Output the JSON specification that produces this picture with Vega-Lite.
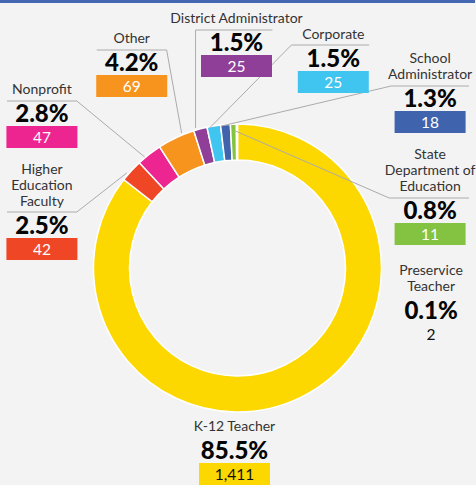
{
  "$schema": "https://vega.github.io/schema/vega-lite/v6.json",
  "width": 476,
  "height": 485,
  "autosize": {"type": "fit", "contains": "padding"},
  "padding": 0,
  "background": "#f3f3f3",
  "config": {"view": {"stroke": null}, "font": "Lato"},
  "datasets": {
    "slices": [
      {"category": "K-12 Teacher", "rank": 1, "count": 1411, "share": 0.855},
      {"category": "Higher Education Faculty", "rank": 2, "count": 42, "share": 0.025},
      {"category": "Nonprofit", "rank": 3, "count": 47, "share": 0.028},
      {"category": "Other", "rank": 4, "count": 69, "share": 0.042},
      {"category": "District Administrator", "rank": 5, "count": 25, "share": 0.015},
      {"category": "Corporate", "rank": 6, "count": 25, "share": 0.015},
      {"category": "School Administrator", "rank": 7, "count": 18, "share": 0.013},
      {"category": "State Department of Education", "rank": 8, "count": 11, "share": 0.008},
      {"category": "Preservice Teacher", "rank": 9, "count": 2, "share": 0.001}
    ],
    "callouts": [
      {"category": "K-12 Teacher", "title": "K-12 Teacher", "lines": 1, "lx": 235, "ly": 452},
      {"category": "Higher Education Faculty", "title": "Higher\nEducation\nFaculty", "lines": 3, "lx": 42, "ly": 227},
      {"category": "Nonprofit", "title": "Nonprofit", "lines": 1, "lx": 42, "ly": 115},
      {"category": "Other", "title": "Other", "lines": 1, "lx": 132, "ly": 64},
      {"category": "District Administrator", "title": "District Administrator", "lines": 1, "lx": 237, "ly": 44},
      {"category": "Corporate", "title": "Corporate", "lines": 1, "lx": 334, "ly": 60},
      {"category": "School Administrator", "title": "School\nAdministrator", "lines": 2, "lx": 431, "ly": 100},
      {"category": "State Department of Education", "title": "State\nDepartment of\nEducation", "lines": 3, "lx": 431, "ly": 212},
      {"category": "Preservice Teacher", "title": "Preservice\nTeacher", "lines": 2, "lx": 432, "ly": 312}
    ],
    "leaders": [
      {"category": "Nonprofit", "seq": 1, "lx": 7, "ly": 101},
      {"category": "Nonprofit", "seq": 2, "lx": 77, "ly": 101},
      {"category": "Nonprofit", "seq": 3, "lx": 145, "ly": 157},
      {"category": "Higher Education Faculty", "seq": 1, "lx": 7, "ly": 212},
      {"category": "Higher Education Faculty", "seq": 2, "lx": 77, "ly": 212},
      {"category": "Higher Education Faculty", "seq": 3, "lx": 127, "ly": 173},
      {"category": "Other", "seq": 1, "lx": 97, "ly": 50},
      {"category": "Other", "seq": 2, "lx": 167, "ly": 50},
      {"category": "Other", "seq": 3, "lx": 182, "ly": 133},
      {"category": "District Administrator", "seq": 1, "lx": 273, "ly": 30},
      {"category": "District Administrator", "seq": 2, "lx": 196, "ly": 30},
      {"category": "District Administrator", "seq": 3, "lx": 196, "ly": 128},
      {"category": "Corporate", "seq": 1, "lx": 370, "ly": 45},
      {"category": "Corporate", "seq": 2, "lx": 292, "ly": 45},
      {"category": "Corporate", "seq": 3, "lx": 210, "ly": 128},
      {"category": "School Administrator", "seq": 1, "lx": 470, "ly": 86},
      {"category": "School Administrator", "seq": 2, "lx": 392, "ly": 86},
      {"category": "School Administrator", "seq": 3, "lx": 222, "ly": 126},
      {"category": "State Department of Education", "seq": 1, "lx": 470, "ly": 198},
      {"category": "State Department of Education", "seq": 2, "lx": 390, "ly": 198},
      {"category": "State Department of Education", "seq": 3, "lx": 236, "ly": 131}
    ]
  },
  "layer": [
    {
      "data": {"values": [{"band": "top"}]},
      "mark": {"type": "rect", "color": "#4467b3"},
      "encoding": {
        "x": {"datum": 0, "type": "quantitative", "scale": {"domain": [0, 476], "nice": false, "zero": false}, "axis": null},
        "x2": {"datum": 476},
        "y": {"datum": 0, "type": "quantitative", "scale": {"domain": [0, 485], "nice": false, "zero": false, "reverse": true}, "axis": null},
        "y2": {"datum": 3}
      }
    },
    {
      "data": {"name": "slices"},
      "mark": {"type": "arc", "outerRadius": 144, "innerRadius": 108, "stroke": "white", "strokeWidth": 1.5},
      "encoding": {
        "theta": {"field": "count", "type": "quantitative", "stack": true},
        "order": {"field": "rank", "type": "quantitative"},
        "color": {
          "field": "category",
          "type": "nominal",
          "legend": null,
          "scale": {
            "domain": ["K-12 Teacher", "Higher Education Faculty", "Nonprofit", "Other", "District Administrator", "Corporate", "School Administrator", "State Department of Education", "Preservice Teacher"],
            "range": ["#fdd800", "#ef4726", "#ed2590", "#f7941d", "#903f98", "#40c4f0", "#3f63ad", "#84c341", "#9a9a9a"]
          }
        },
        "x": {"datum": 238, "type": "quantitative"},
        "y": {"datum": 268, "type": "quantitative"}
      }
    },
    {
      "data": {"name": "leaders"},
      "mark": {"type": "line", "color": "#ababab", "strokeWidth": 1},
      "encoding": {
        "x": {"field": "lx", "type": "quantitative"},
        "y": {"field": "ly", "type": "quantitative"},
        "detail": {"field": "category"},
        "order": {"field": "seq", "type": "quantitative"}
      }
    },
    {
      "data": {"name": "callouts"},
      "transform": [{"filter": "datum.category !== 'Preservice Teacher'"}],
      "mark": {"type": "rect", "width": 71, "height": 22, "yOffset": 22},
      "encoding": {
        "x": {"field": "lx", "type": "quantitative"},
        "y": {"field": "ly", "type": "quantitative"},
        "color": {"field": "category", "type": "nominal", "legend": null}
      }
    },
    {
      "data": {"name": "callouts"},
      "transform": [
        {"calculate": "datum.ly - 25 - 16 * (datum.lines - 1)", "as": "ty"}
      ],
      "mark": {"type": "text", "lineBreak": "\n", "baseline": "middle", "align": "center", "fontSize": 14, "lineHeight": 16, "color": "#333333"},
      "encoding": {
        "x": {"field": "lx", "type": "quantitative"},
        "y": {"field": "ty", "type": "quantitative"},
        "text": {"field": "title"}
      }
    },
    {
      "data": {"name": "callouts"},
      "transform": [{"lookup": "category", "from": {"data": {"name": "slices"}, "key": "category", "fields": ["share", "count"]}}],
      "mark": {"type": "text", "baseline": "middle", "align": "center", "fontSize": 24, "fontWeight": 900, "color": "#050505"},
      "encoding": {
        "x": {"field": "lx", "type": "quantitative"},
        "y": {"field": "ly", "type": "quantitative"},
        "text": {"field": "share", "type": "quantitative", "format": ".1%"}
      }
    },
    {
      "data": {"name": "callouts"},
      "transform": [{"lookup": "category", "from": {"data": {"name": "slices"}, "key": "category", "fields": ["share", "count"]}}],
      "mark": {"type": "text", "baseline": "middle", "align": "center", "fontSize": 15.5, "dy": 23},
      "encoding": {
        "x": {"field": "lx", "type": "quantitative"},
        "y": {"field": "ly", "type": "quantitative"},
        "text": {"field": "count", "type": "quantitative", "format": ","},
        "color": {
          "condition": {"test": "datum.category === 'K-12 Teacher' || datum.category === 'Preservice Teacher'", "value": "#111111"},
          "value": "#ffffff"
        }
      }
    }
  ]
}
